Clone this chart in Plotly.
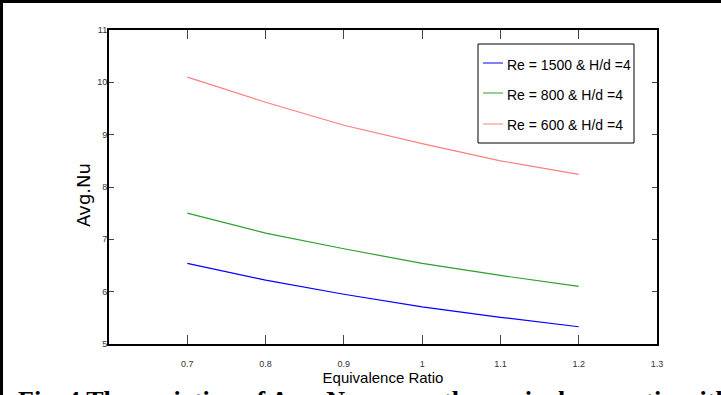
import plotly.graph_objects as go

# Equivalence ratio sweep and averaged Nusselt number for each case
equivalence_ratio = [0.7, 0.8, 0.9, 1.0, 1.1, 1.2]
nu_re1500 = [6.54, 6.22, 5.95, 5.71, 5.51, 5.33]
nu_re800 = [7.50, 7.12, 6.82, 6.54, 6.31, 6.10]
nu_re600 = [10.10, 9.62, 9.18, 8.83, 8.50, 8.24]
series_names = ["Re = 1500 & H/d =4", "Re = 800 & H/d =4", "Re = 600 & H/d =4"]
series_colors = ["#0000ff", "#2ca02c", "#ff7f7f"]
x_ticks = [0.7, 0.8, 0.9, 1.0, 1.1, 1.2, 1.3]
x_tick_text = ["0.7", "0.8", "0.9", "1", "1.1", "1.2", "1.3"]
y_ticks = [5, 6, 7, 8, 9, 10, 11]

W, H = 721, 395
L, R, T, B = 109, 64, 30, 51
PW, PH = W - L - R, H - T - B

def px(xp):
    return (xp - L) / PW

def py(yp):
    return 1 - (yp - T) / PH

sans = "Liberation Sans, Arial, sans-serif"

fig = go.Figure()
for name, vals, col in zip(series_names, [nu_re1500, nu_re800, nu_re600], series_colors):
    fig.add_trace(go.Scatter(x=equivalence_ratio, y=vals, mode="lines", name=name,
                             showlegend=False, line=dict(color=col, width=1.2)))

axis_common = dict(showline=True, linecolor="black", linewidth=2, mirror="ticks",
                   ticks="inside", tickcolor="#444", showgrid=False, zeroline=False,
                   tickfont=dict(family=sans, size=9, color="#333"))

fig.update_xaxes(range=[0.6, 1.3], tickvals=x_ticks, ticktext=x_tick_text, ticklen=9,
                 ticklabelstandoff=10,
                 title=dict(text="Equivalence Ratio", standoff=3,
                            font=dict(family=sans, size=15, color="black")),
                 **axis_common)
fig.update_yaxes(range=[5, 11], tickvals=y_ticks, ticklen=5, ticklabelstandoff=-2,
                 **axis_common)

# boxed legend in the upper right of the axes
legend_box = (478, 44, 634, 143)
row_text_y = [65, 95, 125]
row_line_y = [63, 93, 124]
shapes = [
    dict(type="rect", xref="paper", yref="paper",
         x0=px(legend_box[0]), x1=px(legend_box[2]), y0=py(legend_box[3]), y1=py(legend_box[1]),
         line=dict(color="black", width=1), fillcolor="white", layer="above"),
    # frame around the figure panel
    dict(type="line", xref="paper", yref="paper", x0=px(1.5), x1=px(1.5), y0=py(0), y1=py(H),
         line=dict(color="black", width=3)),
    dict(type="line", xref="paper", yref="paper", x0=px(0), x1=px(W), y0=py(1.5), y1=py(1.5),
         line=dict(color="black", width=3)),
]
annotations = []
for name, col, ty, ly in zip(series_names, series_colors, row_text_y, row_line_y):
    shapes.append(dict(type="line", xref="paper", yref="paper", x0=px(483), x1=px(503),
                       y0=py(ly), y1=py(ly), line=dict(color=col, width=1), layer="above"))
    annotations.append(dict(xref="paper", yref="paper", x=px(505), y=py(ty),
                            xanchor="left", yanchor="middle", showarrow=False, text=name,
                            font=dict(family=sans, size=14, color="black")))

annotations.append(dict(xref="paper", yref="paper", x=px(83), y=py(195), textangle=-90,
                        xanchor="center", yanchor="middle", showarrow=False, text="Avg.Nu",
                        font=dict(family="DejaVu Sans, sans-serif", size=18, color="black")))
annotations.append(dict(xref="paper", yref="paper", x=px(16), y=py(384), xanchor="left",
                        yanchor="top", showarrow=False, align="left",
                        text="<b>Fig. 4 The variation of Avg. Nu versus the equivalence ratio with</b>",
                        font=dict(family="Liberation Serif, Times New Roman, serif", size=26,
                                  color="black")))

fig.update_layout(
    width=W, height=H,
    margin=dict(l=L, r=R, t=T, b=B),
    paper_bgcolor="white", plot_bgcolor="white",
    showlegend=False,
    shapes=shapes,
    annotations=annotations,
)

fig.write_html("out.html")
